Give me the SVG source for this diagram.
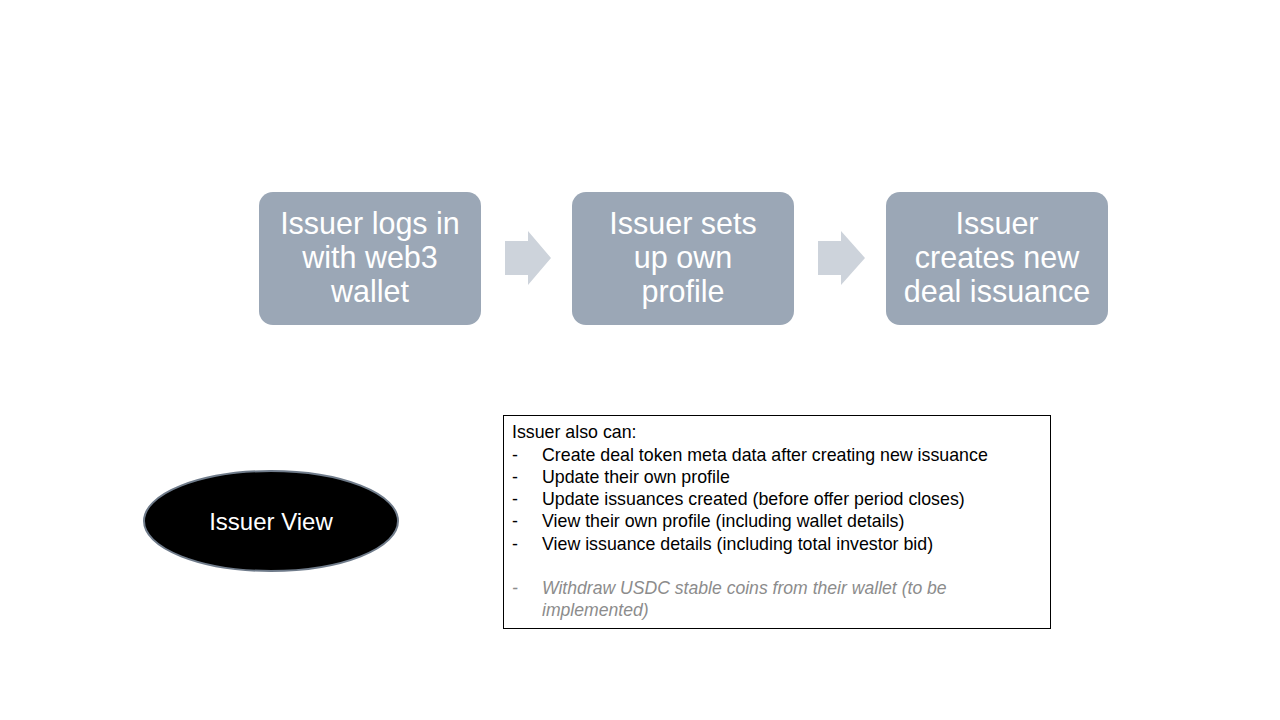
<svg xmlns="http://www.w3.org/2000/svg" width="1280" height="720" viewBox="0 0 1280 720">
<defs>
<style>
.step{fill:#9BA7B6;}
.stepText{font-family:"Liberation Sans",Arial,sans-serif;font-size:30.5px;fill:#ffffff;text-anchor:middle;}
.arrow{fill:#CDD3DB;}
.body{font-family:"Liberation Sans",Arial,sans-serif;font-size:17.8px;fill:#000000;}
.gray{fill:#8C8C8C;font-style:italic;font-size:17.6px;}
</style>
</defs>
<rect width="1280" height="720" fill="#ffffff"/>
<g id="connectors">
<polygon class="arrow" points="505,241 528,241 528,231 551,258 528,285 528,275 505,275"/>
<polygon class="arrow" points="818,241 841,241 841,231 865,258 841,285 841,275 818,275"/>
</g>
<g id="step1">
<rect class="step" x="259" y="192" width="222" height="133" rx="14"/>
<text class="stepText" x="370" y="234">Issuer logs in</text>
<text class="stepText" x="370" y="268">with web3</text>
<text class="stepText" x="370" y="302">wallet</text>
</g>
<g id="step2">
<rect class="step" x="572" y="192" width="222" height="133" rx="14"/>
<text class="stepText" x="683" y="234">Issuer sets</text>
<text class="stepText" x="683" y="268">up own</text>
<text class="stepText" x="683" y="302">profile</text>
</g>
<g id="step3">
<rect class="step" x="886" y="192" width="222" height="133" rx="14"/>
<text class="stepText" x="997" y="234">Issuer</text>
<text class="stepText" x="997" y="268">creates new</text>
<text class="stepText" x="997" y="302">deal issuance</text>
</g>
<g id="issuerView">
<ellipse cx="271" cy="521" rx="127" ry="50" fill="#000000" stroke="#6F7B8A" stroke-width="2"/>
<text x="271" y="530" font-family="Liberation Sans,Arial,sans-serif" font-size="24" fill="#ffffff" text-anchor="middle">Issuer View</text>
</g>
<g id="notes">
<rect x="503.5" y="415.5" width="547" height="213" fill="#ffffff" stroke="#000000" stroke-width="1"/>
<text class="body" x="512" y="438">Issuer also can:</text>
<text class="body" x="512" y="461">-</text><text class="body" x="542" y="461">Create deal token meta data after creating new issuance</text>
<text class="body" x="512" y="483">-</text><text class="body" x="542" y="483">Update their own profile</text>
<text class="body" x="512" y="505">-</text><text class="body" x="542" y="505">Update issuances created (before offer period closes)</text>
<text class="body" x="512" y="527">-</text><text class="body" x="542" y="527">View their own profile (including wallet details)</text>
<text class="body" x="512" y="550">-</text><text class="body" x="542" y="550">View issuance details (including total investor bid)</text>
<text class="body gray" x="512" y="594">-</text><text class="body gray" x="542" y="594">Withdraw USDC stable coins from their wallet (to be</text>
<text class="body gray" x="542" y="616">implemented)</text>
</g>
</svg>
